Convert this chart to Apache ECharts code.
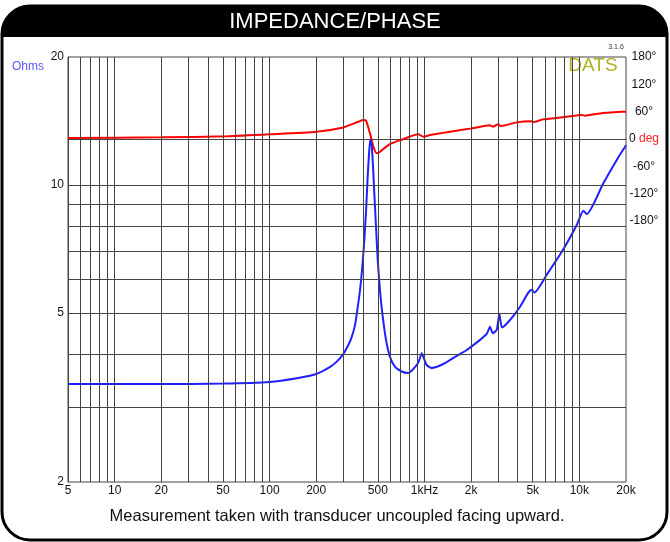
<!DOCTYPE html>
<html><head><meta charset="utf-8">
<script src="https://cdn.jsdelivr.net/npm/echarts@6/dist/echarts.min.js"></script>
<style>html,body{margin:0;padding:0;background:#fff}#c{width:670px;height:542px}</style>
</head><body><div id="c"></div>
<script>
// Impedance curve (Hz, Ohms)
const impFreq = [5,10,20,50,100,150,200,246,271.5,299,322.6,339.3,356.2,368.7,383.8,397.1,409.1,420,430,439,447,456.5,465.6,474.7,486.8,499.4,517,537.9,564.8,599,646,713.5,787,892,923,960,994,1034,1114,1324,1576,1875,2285,2523,2651,2759,2928,3043,3168,3568,4140,4684,4927,5120,6159,7880,9616,10610,11160,14280,17430,19720,20000];
const impOhms = [3.40,3.40,3.40,3.41,3.44,3.51,3.59,3.73,3.84,4.00,4.20,4.39,4.68,5.08,5.66,6.42,7.42,8.73,10.46,11.87,12.80,12.42,11.04,9.55,7.97,6.66,5.61,4.90,4.32,3.94,3.73,3.64,3.61,3.77,3.86,4.02,3.90,3.77,3.71,3.79,3.94,4.09,4.32,4.46,4.64,4.48,4.56,4.97,4.62,4.81,5.17,5.58,5.67,5.58,6.15,7.06,8.05,8.70,8.54,10.09,11.45,12.3,12.4];
// Phase curve (Hz, degrees)
const phFreq = [5,20,53,101,201,299,374,403,420,445,468,492,517,595,700,913,983,1086,1463,2020,2651,2759,2999,3107,3942,4927,5045,5854,8287,10360,10880,13600,19050,20000];
const phDeg = [2.2,3.7,5.9,10.3,16,25.3,37.8,41.6,40.1,12.4,-16.9,-31.4,-27.9,-11.7,-2.5,10.4,5,8.7,16,23.3,30,27,32.2,28.4,36.5,38.7,37.1,43.1,48.8,52.6,51,56.2,59.8,59.9];
// Axis ticks / labels
const xTickVals = [5,10,20,50,100,200,500,1000,2000,5000,10000,20000];
const xTickLabels = ['5','10','20','50','100','200','500','1kHz','2k','5k','10k','20k'];
const yTickVals = [2,5,10,20];
const phaseTicks = [-180,-120,-60,0,60,120,180];
// Grid lines
const gridFreqs = [6,7,8,9,10,20,30,40,50,60,70,80,90,100,200,300,400,500,600,700,800,900,1000,2000,3000,4000,5000,6000,7000,8000,9000,10000];
const gridOhms = [3,4,5,6,7,8,9,10];

const FONT = "'Liberation Sans', Arial, sans-serif";
const chart = echarts.init(document.getElementById('c'), null, {renderer:'canvas'});
const gridLineData = gridFreqs.map(v => ({xAxis: v})).concat(gridOhms.map(v => ({yAxis: v})));
chart.setOption({
  animation: false,
  backgroundColor: '#fff',
  textStyle: {fontFamily: FONT},
  grid: {left: 68, top: 57, right: 44, bottom: 60, show: true, borderColor: '#444', borderWidth: 1, backgroundColor: 'transparent'},
  xAxis: {
    type: 'log', logBase: 10, min: 5, max: 20000,
    axisLine: {show: true, lineStyle: {color: '#444', width: 1}},
    axisTick: {show: false},
    splitLine: {show: false},
    minorTick: {show: false}, minorSplitLine: {show: false},
    axisLabel: {
      customValues: xTickVals, color: '#111', fontSize: 12, fontFamily: FONT, margin: 3,
      formatter: v => { const i = xTickVals.findIndex(t => Math.abs(t - v) / t < 1e-6); return i >= 0 ? xTickLabels[i] : ''; }
    }
  },
  yAxis: [{
    type: 'log', logBase: 10, min: 2, max: 20,
    axisLine: {show: true, lineStyle: {color: '#444', width: 1}},
    axisTick: {show: false},
    splitLine: {show: false},
    axisLabel: {customValues: yTickVals, color: '#111', fontSize: 12, fontFamily: FONT, margin: 4,
      formatter: v => String(Math.round(v))}
  }, {
    type: 'value', min: -753, max: 180, position: 'right',
    axisLine: {show: false}, axisTick: {show: false}, splitLine: {show: false},
    axisLabel: {customValues: phaseTicks, color: '#111', fontSize: 12, fontFamily: FONT, margin: 18, align: 'center',
      formatter: v => v === 0 ? '0 {r|deg}' : v + '°',
      rich: {r: {color: '#ff2222', fontSize: 12, fontFamily: FONT}}}
  }],
  series: [{
    type: 'line', data: [], silent: true, z: 1,
    markLine: {silent: true, symbol: 'none', animation: false, label: {show: false},
      lineStyle: {color: '#444', width: 1, type: 'solid'}, emphasis: {disabled: true},
      data: gridLineData}
  }, {
    name: 'Phase', type: 'line', yAxisIndex: 1, z: 3, showSymbol: false, smooth: 0.2,
    lineStyle: {color: '#ff0000', width: 2},
    data: phFreq.map((f, i) => [f, phDeg[i]])
  }, {
    name: 'Impedance', type: 'line', yAxisIndex: 0, z: 4, showSymbol: false, smooth: 0.2,
    lineStyle: {color: '#2020ff', width: 2},
    data: impFreq.map((f, i) => [f, impOhms[i]])
  }],
  graphic: [
    {type: 'rect', z: 0, shape: {x: 2, y: 6, width: 665, height: 534, r: 28}, style: {fill: 'transparent', stroke: '#000', lineWidth: 3}},
    {type: 'rect', z: 1, shape: {x: 2, y: 6, width: 665, height: 31, r: [28, 28, 0, 0]}, style: {fill: '#000'}},
    {type: 'text', z: 2, x: 335, y: 22, style: {text: 'IMPEDANCE/PHASE', fill: '#fff', font: '22px ' + FONT, textAlign: 'center', textVerticalAlign: 'middle'}},
    {type: 'text', z: 2, x: 12, y: 67, style: {text: 'Ohms', fill: '#5a5aff', font: '12px ' + FONT, textAlign: 'left', textVerticalAlign: 'middle'}},
    {type: 'text', z: 5, x: 593, y: 66, style: {text: 'DATS', fill: '#b0b020', font: '19px ' + FONT, textAlign: 'center', textVerticalAlign: 'middle'}},
    {type: 'text', z: 5, x: 616, y: 47, style: {text: '3.1.6', fill: '#333', font: '7px ' + FONT, textAlign: 'center', textVerticalAlign: 'middle'}},
    {type: 'text', z: 2, x: 337, y: 516, style: {text: 'Measurement taken with transducer uncoupled facing upward.', fill: '#111', font: '16.5px ' + FONT, textAlign: 'center', textVerticalAlign: 'middle'}}
  ]
});
</script></body></html>
